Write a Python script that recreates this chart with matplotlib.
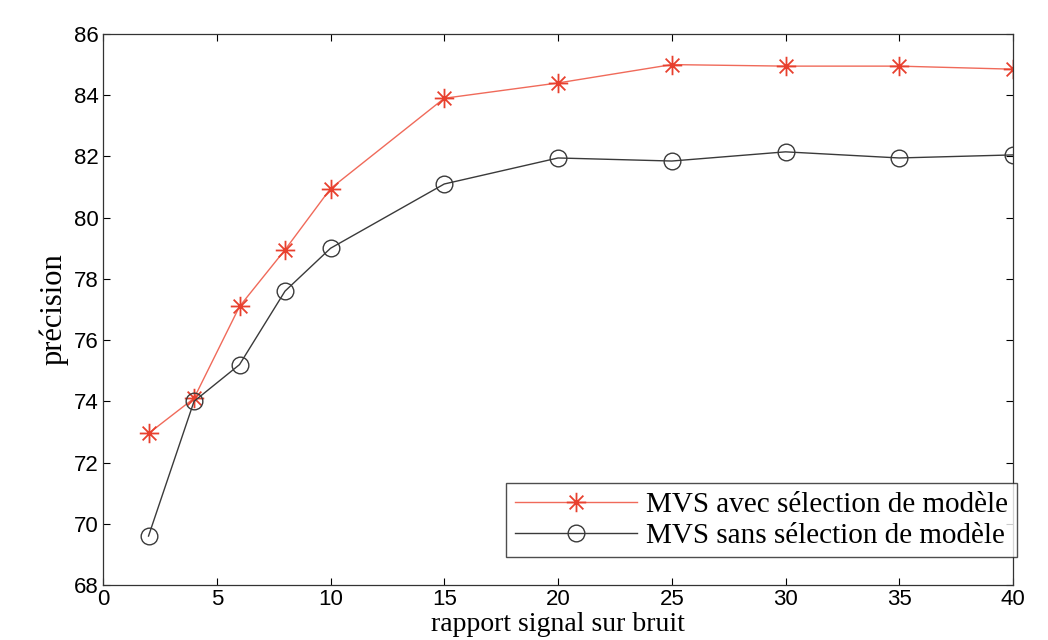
import matplotlib.pyplot as plt
from matplotlib.path import Path

# --- DONNEES ---
snr = [2, 4, 6, 8, 10, 15, 20, 25, 30, 35, 40]
avec_selection = [72.95, 74.1, 77.1, 78.95, 80.95, 83.9, 84.4, 85.0, 84.95, 84.95, 84.85]
sans_selection = [69.6, 74.0, 75.2, 77.6, 79.0, 81.1, 81.95, 81.85, 82.15, 81.95, 82.05]

x_ticks = [0, 5, 10, 15, 20, 25, 30, 35, 40]
y_ticks = [68, 70, 72, 74, 76, 78, 80, 82, 84, 86]

serif = ['Liberation Serif', 'DejaVu Serif']
sans = ['Liberation Sans', 'DejaVu Sans']

# asterisque style MATLAB (+ et x superposes)
d = 0.7071
asterisk = Path(
    [(-1, 0), (1, 0), (0, -1), (0, 1), (-d, -d), (d, d), (-d, d), (d, -d)],
    [Path.MOVETO, Path.LINETO] * 4,
)

fig = plt.figure(figsize=(10.48, 6.4), dpi=100)
ax = fig.add_axes([0.0983, 0.0859, 0.8683, 0.861])

ax.plot(snr, avec_selection, color='#f06a5a', linewidth=1.0, marker=asterisk,
        markersize=14, markerfacecolor='none', markeredgecolor='#e8402e',
        markeredgewidth=1.3, label='MVS avec sélection de modèle')
ax.plot(snr, sans_selection, color='#3a3a3a', linewidth=1.0, marker='o',
        markersize=12, markerfacecolor='none', markeredgecolor='#3a3a3a',
        markeredgewidth=1.0, label='MVS sans sélection de modèle')

ax.set_xlim(0, 40)
ax.set_ylim(68, 86)
ax.set_xticks(x_ticks)
ax.set_yticks(y_ticks)
ax.tick_params(direction='in', top=True, right=True, length=5, width=0.8,
               labelsize=16, pad=3)
for lbl in ax.get_xticklabels() + ax.get_yticklabels():
    lbl.set_family(sans)

for s in ax.spines.values():
    s.set_linewidth(0.9)
    s.set_color('#333333')

ax.set_xlabel('rapport signal sur bruit', family=serif, fontsize=20, labelpad=1)
ax.set_ylabel('précision', family=serif, fontsize=22, labelpad=4)

leg = ax.legend(loc='lower right', bbox_to_anchor=(1.004, 0.05),
                prop={'family': serif, 'size': 21}, frameon=True, fancybox=False,
                edgecolor='#222222', handlelength=4.2, borderpad=0.3,
                labelspacing=0.15, handletextpad=0.3, borderaxespad=0.0)
leg.get_frame().set_linewidth(1.0)

plt.savefig('out.png', dpi=100)
